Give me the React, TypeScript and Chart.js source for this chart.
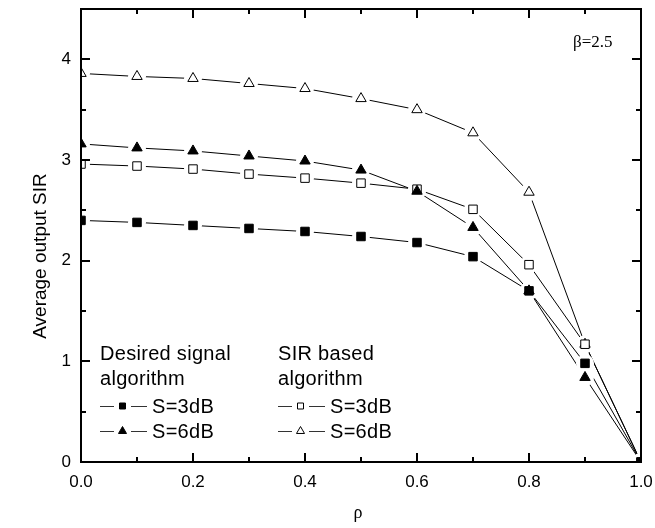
import React, { useEffect, useRef } from 'react';
import { Chart, registerables } from 'chart.js';

Chart.register(...registerables);

// ---- data ----
const rho = [0, 0.1, 0.2, 0.3, 0.4, 0.5, 0.6, 0.7, 0.8, 0.9, 1.0];
const desired3dB = [2.40, 2.38, 2.35, 2.32, 2.29, 2.24, 2.18, 2.04, 1.70, 0.98, 0];
const desired6dB = [3.16, 3.12, 3.09, 3.04, 2.99, 2.90, 2.69, 2.33, 1.70, 0.84, 0];
const sir3dB = [2.96, 2.94, 2.91, 2.86, 2.82, 2.77, 2.71, 2.51, 1.96, 1.17, 0];
const sir6dB = [3.86, 3.83, 3.81, 3.76, 3.71, 3.61, 3.50, 3.27, 2.68, 1.17, 0];

const xMajorTicks = [0, 0.2, 0.4, 0.6, 0.8, 1.0];
const xMinorTicks = [0.1, 0.3, 0.5, 0.7, 0.9];
const yMajorTicks = [0, 1, 2, 3, 4];
const yMinorTicks = [0.5, 1.5, 2.5, 3.5];

const yTitle = 'Average output SIR';
const xTitle = 'ρ';
const annotation = 'β=2.5';
const legendHeaders = [['Desired signal', 'algorithm'], ['SIR based', 'algorithm']];
const legendLabels = ['S=3dB', 'S=6dB'];

type Series = { data: number[]; style: 'rect' | 'triangle'; filled: boolean };
const series: Series[] = [
  { data: desired3dB, style: 'rect', filled: true },
  { data: desired6dB, style: 'triangle', filled: true },
  { data: sir3dB, style: 'rect', filled: false },
  { data: sir6dB, style: 'triangle', filled: false },
];

const SANS = '"Liberation Sans", Arial, sans-serif';
const SERIF = '"Liberation Serif", "Times New Roman", serif';

const toPoints = (ys: number[]) => rho.map((x, i) => ({ x, y: ys[i] }));

function drawMarker(ctx: CanvasRenderingContext2D, style: string, filled: boolean, cx: number, cy: number, s: number) {
  ctx.beginPath();
  if (style === 'rect') {
    ctx.rect(cx - s / 2, cy - s / 2, s, s);
  } else {
    const h = s * 0.87;
    ctx.moveTo(cx, cy - h / 2 - 1);
    ctx.lineTo(cx + s / 2, cy + h / 2 - 1);
    ctx.lineTo(cx - s / 2, cy + h / 2 - 1);
    ctx.closePath();
  }
  ctx.fillStyle = filled ? '#000' : '#fff';
  ctx.fill();
  ctx.lineWidth = 1;
  ctx.strokeStyle = '#000';
  ctx.stroke();
}

const framePlugin = {
  id: 'frameTicks',
  afterDraw(chart: any) {
    const { ctx, chartArea: a, scales } = chart;
    const xs = scales.x;
    const ys = scales.y;
    ctx.save();
    ctx.strokeStyle = '#000';
    ctx.lineWidth = 2;
    ctx.strokeRect(a.left, a.top, a.right - a.left, a.bottom - a.top);
    ctx.beginPath();
    const major = 9;
    const minor = 5;
    const xt = (v: number, len: number) => {
      const px = Math.round(xs.getPixelForValue(v));
      ctx.moveTo(px, a.bottom);
      ctx.lineTo(px, a.bottom - len);
      ctx.moveTo(px, a.top);
      ctx.lineTo(px, a.top + len);
    };
    const yt = (v: number, len: number) => {
      const py = Math.round(ys.getPixelForValue(v));
      ctx.moveTo(a.left, py);
      ctx.lineTo(a.left + len, py);
      ctx.moveTo(a.right, py);
      ctx.lineTo(a.right - len, py);
    };
    xMajorTicks.forEach((v) => xt(v, major));
    xMinorTicks.forEach((v) => xt(v, minor));
    yMajorTicks.forEach((v) => yt(v, major));
    yMinorTicks.forEach((v) => yt(v, minor));
    ctx.stroke();

    // axis titles and annotation
    ctx.fillStyle = '#000';
    ctx.textBaseline = 'alphabetic';
    ctx.font = `19px ${SANS}`;
    ctx.save();
    ctx.translate(46, 256);
    ctx.rotate(-Math.PI / 2);
    ctx.textAlign = 'center';
    ctx.fillText(yTitle, 0, 0);
    ctx.restore();

    ctx.font = `18px ${SERIF}`;
    ctx.textAlign = 'center';
    ctx.fillText(xTitle, (a.left + a.right) / 2 - 3, 518);

    ctx.font = `17px ${SERIF}`;
    ctx.textAlign = 'left';
    ctx.fillText(annotation, a.right - 68, a.top + 38);

    // legend
    ctx.font = `20px ${SANS}`;
    (ctx as any).letterSpacing = '0.3px';
    const cols = [100, 278];
    const baseTop = 360;
    cols.forEach((lx, ci) => {
      ctx.fillStyle = '#000';
      ctx.textAlign = 'left';
      ctx.fillText(legendHeaders[ci][0], lx, baseTop);
      ctx.fillText(legendHeaders[ci][1], lx, baseTop + 25);
      legendLabels.forEach((lab, li) => {
        const s = series[ci * 2 + li];
        const by = baseTop + 53 + li * 25;
        const my = by - 7;
        ctx.beginPath();
        ctx.lineWidth = 1;
        ctx.strokeStyle = '#333';
        ctx.moveTo(lx, my + 0.5);
        ctx.lineTo(lx + 14, my + 0.5);
        ctx.moveTo(lx + 31, my + 0.5);
        ctx.lineTo(lx + 47, my + 0.5);
        ctx.stroke();
        drawMarker(ctx, s.style, s.filled, lx + 22.5, my, s.style === 'rect' ? 6 : 8);
        ctx.fillStyle = '#000';
        ctx.fillText(lab, lx + 52, by);
      });
    });
    (ctx as any).letterSpacing = '0px';
    ctx.restore();
  },
};

export default function App() {
  const ref = useRef<HTMLCanvasElement | null>(null);
  useEffect(() => {
    document.body.style.margin = '0';
    const canvas = ref.current;
    if (!canvas) return;
    const datasets: any[] = [
      ...series.map((s) => ({
        data: toPoints(s.data),
        borderColor: '#000',
        borderWidth: 1,
        pointRadius: 0,
        showLine: true,
        tension: 0,
        order: 3,
        clip: 0,
      })),
      ...series.map((s) => ({
        data: toPoints(s.data),
        showLine: false,
        pointStyle: 'circle',
        pointRadius: 9,
        pointBackgroundColor: '#fff',
        pointBorderColor: '#fff',
        pointBorderWidth: 0,
        order: 2,
        clip: 0,
      })),
      ...series.map((s) => ({
        data: toPoints(s.data),
        showLine: false,
        pointStyle: s.style,
        pointRadius: 6,
        pointBackgroundColor: s.filled ? '#000' : '#fff',
        pointBorderColor: '#000',
        pointBorderWidth: 1,
        order: 1,
        clip: 0,
      })),
    ];
    const chart = new Chart(canvas, {
      type: 'line',
      data: { datasets },
      options: {
        animation: false,
        responsive: false,
        devicePixelRatio: 1,
        events: [],
        layout: { padding: { top: 8, right: 14, left: 0, bottom: 0 } },
        plugins: { legend: { display: false }, tooltip: { enabled: false } },
        scales: {
          x: {
            type: 'linear',
            min: 0,
            max: 1,
            grid: { display: false, drawTicks: false },
            border: { display: false },
            afterBuildTicks: (scale: any) => {
              scale.ticks = xMajorTicks.map((v) => ({ value: v }));
            },
            afterFit: (scale: any) => {
              scale.height = 66;
              scale.paddingLeft = 0;
              scale.paddingRight = 0;
            },
            ticks: {
              padding: 10,
              color: '#000',
              font: { family: SANS, size: 17 },
              maxRotation: 0,
              callback: (v: any) => Number(v).toFixed(1),
            },
          },
          y: {
            type: 'linear',
            min: 0,
            max: 4.5,
            grid: { display: false, drawTicks: false },
            border: { display: false },
            afterBuildTicks: (scale: any) => {
              scale.ticks = yMajorTicks.map((v) => ({ value: v }));
            },
            afterFit: (scale: any) => {
              scale.width = 81;
              scale.paddingTop = 0;
              scale.paddingBottom = 0;
            },
            ticks: {
              padding: 10,
              color: '#000',
              font: { family: SANS, size: 17 },
              callback: (v: any) => String(v),
            },
          },
        },
      },
      plugins: [framePlugin],
    });
    return () => chart.destroy();
  }, []);
  return (
    <div style={{ width: 655, height: 528 }}>
      <canvas ref={ref} width={655} height={528} />
    </div>
  );
}
